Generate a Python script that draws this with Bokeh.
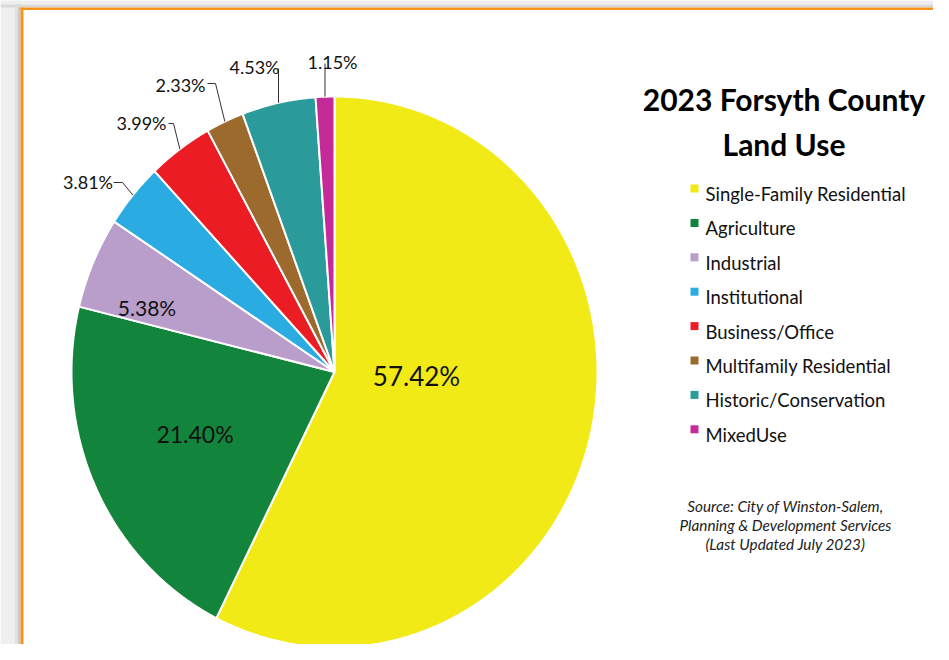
import numpy as np
from bokeh.plotting import figure
from bokeh.models import Range1d
from bokeh.core.properties import value
from bokeh.embed import file_html
from bokeh.resources import INLINE

# ---------------- data ----------------
categories = ["Single-Family Residential", "Agriculture", "Industrial", "Institutional",
              "Business/Office", "Multifamily Residential", "Historic/Conservation", "MixedUse"]
shares = [57.42, 21.40, 5.38, 3.81, 3.99, 2.33, 4.53, 1.15]
colors = ["#F2EA17", "#13843B", "#B99DCB", "#2AACE3", "#EC1C24", "#9B6A2C", "#2A9A9B", "#C52B98"]
title_lines = ["2023 Forsyth County", "Land Use"]
source_lines = ["Source: City of Winston-Salem,", "Planning & Development Services",
                "(Last Updated July 2023)"]

# ---------------- layout (figure pixels, y grows downward) ----------------
W, H = 933, 644
CX, CY, RX, RY = 334, 371.5, 263, 275.5
FONT = value("Lato")

label_x = [416, 194.5, 146.5, 87.5, 141, 180, 254, 332]
label_y = [375, 433, 306.7, 181.7, 122.7, 84.3, 66.7, 61.7]
label_size = [26, 23, 21, 18, 18, 18, 18, 18]
# leader lines for the outside labels: (elbow, tail); None -> straight up to given y
leader_pts = {3: ((122, 182), (113, 182)),
              4: ((173, 123), (168, 123)),
              5: ((215, 83), (207, 83)),
              6: (None, 68),
              7: (None, 63)}

p = figure(width=W, height=H, x_range=Range1d(0, W), y_range=Range1d(H, 0),
           output_backend="svg", toolbar_location=None,
           x_axis_type=None, y_axis_type=None, min_border=0)
p.outline_line_color = None
p.background_fill_color = "white"
p.border_fill_color = "white"
for g in p.grid:
    g.visible = False

# shadow strips & orange frame
p.quad(left=[0, 14, 17], right=[14, 17, 20], top=[0, 0, 0], bottom=[H, H, H],
       fill_color=["#efefef", "#e2e2e2", "#cccccc"], line_color=None)
p.quad(left=[0, 0], right=[W, W], top=[0, 4], bottom=[4, 7],
       fill_color=["#eeeeee", "#d9d9d9"], line_color=None)
p.line(x=[21.5, 21.5], y=[7, H], line_color="#F7941D", line_width=3)
p.line(x=[20, W], y=[8.2, 8.2], line_color="#F7941D", line_width=2.6)

# ---------------- pie ----------------
vals = np.array(shares, dtype=float)
frac = vals / vals.sum()
cum = np.concatenate([[0.0], np.cumsum(frac)])
xs, ys = [], []
for i in range(len(vals)):
    n = max(4, int(frac[i] * 720))
    t = 2 * np.pi * np.linspace(cum[i], cum[i + 1], n)
    xs.append([CX] + list(CX + RX * np.sin(t)) + [CX])
    ys.append([CY] + list(CY - RY * np.cos(t)) + [CY])
p.patches(xs, ys, fill_color=colors, line_color="white", line_width=2)

# ---------------- labels ----------------
mid = 2 * np.pi * (cum[:-1] + cum[1:]) / 2
for i, s in enumerate(shares):
    txt = f"{s:.2f}%"
    if i in leader_pts:
        ex = CX + RX * np.sin(mid[i])
        ey = CY - RY * np.cos(mid[i])
        elbow, tail = leader_pts[i]
        if elbow is None:
            lx, ly = [ex, ex], [ey, tail]
        else:
            lx, ly = [ex, elbow[0], tail[0]], [ey, elbow[1], tail[1]]
        p.line(x=lx, y=ly, line_color="#333333", line_width=1)
    p.text(x=[label_x[i]], y=[label_y[i]], text=[txt], text_font=FONT,
           text_font_size=value(f"{label_size[i]}px"), text_color="#111111",
           text_align="center", text_baseline="alphabetic")

# ---------------- title ----------------
p.text(x=[783.5, 783.5], y=[98, 143], text=title_lines, text_font=FONT,
       text_font_size=value("30px"), text_font_style="bold", text_color="#000000",
       text_align="center", text_baseline="alphabetic")

# ---------------- legend ----------------
leg_y = [188 + 34.4 * i for i in range(len(categories))]
p.rect(x=[694] * len(categories), y=leg_y, width=8, height=8,
       fill_color=colors, line_color=None)
p.text(x=[705] * len(categories), y=[v + 5.5 for v in leg_y], text=categories,
       text_font=FONT, text_font_size=value("18.5px"), text_color="#111111",
       text_align="left", text_baseline="alphabetic")

# ---------------- source ----------------
p.text(x=[785] * 3, y=[505, 524, 543], text=source_lines, text_font=FONT,
       text_font_size=value("15.3px"), text_font_style="italic", text_color="#222222",
       text_align="center", text_baseline="alphabetic")

open("out.html", "w").write(file_html(p, INLINE))
